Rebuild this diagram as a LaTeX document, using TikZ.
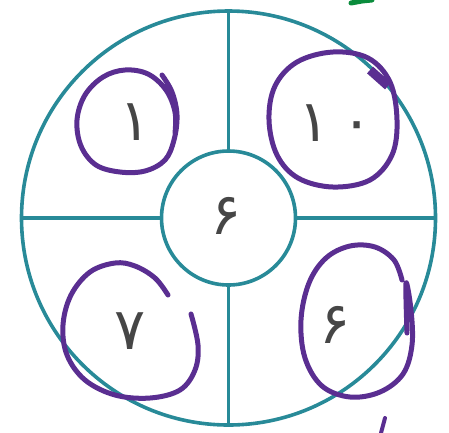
\documentclass[tikz,border=0pt]{standalone}
\usepackage{fontspec}
\newfontfamily\arabicfont[Script=Arabic]{DejaVu Sans}
\definecolor{teal1}{RGB}{40,138,152}
\definecolor{purp}{RGB}{90,46,145}
\definecolor{grn}{RGB}{10,140,60}
\definecolor{digit}{RGB}{70,70,70}
\tikzset{
  ring/.style={draw=teal1, line width=3.6pt},
  spoke/.style={draw=teal1, line width=3.4pt},
  penmark/.style={draw=purp, line width=5pt, line cap=round, line join=round},
  num/.style={text=digit, font=\arabicfont\fontsize{58}{66}\selectfont, inner sep=0pt},
}
\begin{document}
\begin{tikzpicture}[x=1pt,y=-1pt]
\useasboundingbox (0,0) rectangle (449,432);
% wheel
\coordinate (c) at (228.5,218);
\node[circle, minimum size=134pt, inner sep=0pt] (inner) at (c) {};
\node[circle, minimum size=414pt, inner sep=0pt] (outer) at (c) {};
\draw[ring] (c) circle[radius=207];
\draw[spoke] (inner.north) -- (outer.north);
\draw[spoke] (inner.south) -- (outer.south);
\draw[spoke] (inner.west) -- (outer.west);
\draw[spoke] (inner.east) -- (outer.east);
\draw[ring] (c) circle[radius=67];
% digits
\node[num] (d1) at (135,122) {۱};
\node[num] (d10) at (336,123) {۱\hspace{12pt}۰};
\node[num] (dc) at (226,216) {۶};
\node[num] (d7) at (130,331) {۷};
\node[num] (d6) at (335,325) {۶};
% hand-drawn circles
\draw[penmark] plot[smooth, tension=0.6] coordinates {(162,75) (172,92) (177,115) (174,140) (165,160) (145,171) (120,172) (96,165) (81,146) (77,120) (85,95) (103,77) (125,70) (148,74) (166,90) (175,112) (175,133)};
\draw[penmark] plot[smooth cycle, tension=0.6] coordinates {(333,52) (368,58) (390,82) (397,120) (392,155) (370,180) (333,187) (298,178) (277,155) (269,120) (275,86) (297,62)};
\draw[draw=purp, line width=9pt] (370,70) -- (388,86);
\draw[penmark] plot[smooth, tension=0.6] coordinates {(168,295) (155,278) (135,266) (115,263) (90,272) (71,295) (63,325) (67,355) (85,380) (115,395) (150,398) (180,390) (195,370) (198,345) (191,314)};
\draw[penmark] plot[smooth, tension=0.6] coordinates {(402,280) (394,260) (375,247) (350,246) (326,258) (309,283) (301,320) (305,358) (322,386) (350,397) (380,392) (403,374) (412,345) (411,310) (406,283) (407,333)};
% stray marks
\draw[draw=grn, line width=5pt, line cap=round] (351,3) -- (362,1) -- (372,0);
\draw[penmark, line width=4pt] (385,418) -- (381,433);
\end{tikzpicture}
\end{document}
